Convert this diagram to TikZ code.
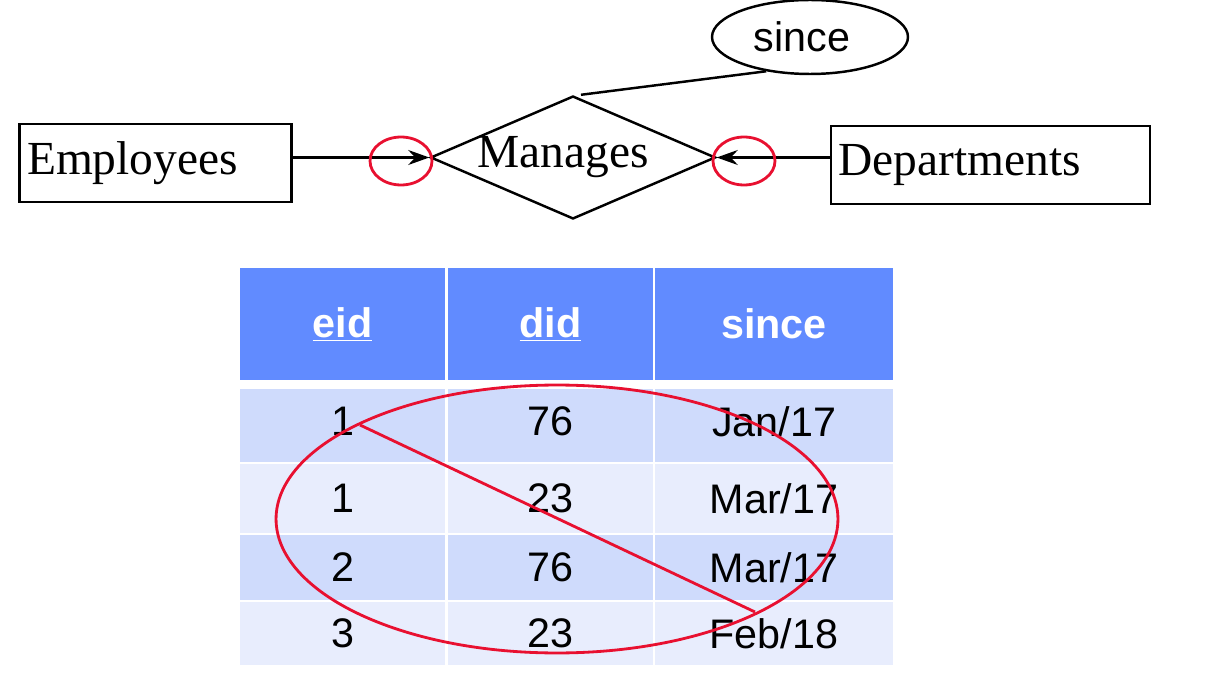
\documentclass[tikz,border=0pt]{standalone}
\usepackage{fontspec}
\setmainfont{Liberation Serif}
\setsansfont{Liberation Sans}
\usetikzlibrary{shapes.geometric,arrows.meta}
\definecolor{hdrblue}{RGB}{97,139,255}
\definecolor{rowdark}{RGB}{207,219,252}
\definecolor{rowlight}{RGB}{232,237,253}
\definecolor{markred}{RGB}{232,16,48}
\tikzset{
  entity/.style={draw,line width=1.4pt,rectangle,align=left,inner sep=0.15cm,
    minimum height=1.56cm,font=\fontsize{27}{30}\selectfont},
  relship/.style={draw,line width=1.4pt,diamond,inner sep=0pt,shape aspect=2.32,
    minimum width=5.7cm,minimum height=2.46cm,font=\fontsize{27}{30}\selectfont},
  attrib/.style={draw,line width=1.4pt,ellipse,inner sep=0pt,
    minimum width=3.92cm,minimum height=1.48cm,font=\sffamily\fontsize{23.5}{26}\selectfont},
  arr/.style={line width=1.4pt,-{Stealth[length=12pt,width=8.5pt,inset=4pt]}},
  redline/.style={draw=markred,line width=1.6pt},
  cell/.style={inner sep=0pt,font=\sffamily\fontsize{23.5}{26}\selectfont},
  hcell/.style={cell,fill=hdrblue,text=white,minimum height=2.24cm,
    font=\sffamily\bfseries\fontsize{23.5}{26}\selectfont},
}
\begin{document}
\begin{tikzpicture}[x=0.02cm,y=-0.02cm]
  \useasboundingbox (0,0) rectangle (1208,679);
  \node[entity,text width=5.14cm] (emp) at (155.5,163) {Employees};
  \node[entity,text width=6.08cm] (dep) at (990.5,165) {Departments};
  \node[relship] (rel) at (573,157.5) {\hspace*{-0.4cm}\raisebox{0.06cm}{Manages}};
  \node[attrib] (since) at (810,37) {\hspace*{-0.32cm}since};
  \draw[line width=1.4pt] ([xshift=0.16cm]rel.north) -- (since.218);
  \draw[arr] (emp.east |- rel.west) -- (rel.west);
  \draw[arr] (dep.west |- rel.east) -- (rel.east);
  \draw[redline] (401,161) ellipse [x radius=0.62cm,y radius=0.48cm];
  \draw[redline] (744,161) ellipse [x radius=0.62cm,y radius=0.48cm];

  \node[hcell,minimum width=4.1cm] (h1) at (342.5,324) {\underline{eid}};
  \node[hcell,minimum width=4.1cm] (h2) at (550.5,324) {\underline{did}};
  \node[hcell,minimum width=4.76cm] (h3) at (774,324) {since};

  \node[cell,fill=rowdark,minimum width=4.1cm,minimum height=1.46cm] (r1a) at (342.5,425.5) {\raisebox{0.17cm}{1}};
  \node[cell,fill=rowdark,minimum width=4.1cm,minimum height=1.46cm] (r1b) at (550.5,425.5) {\raisebox{0.17cm}{76}};
  \node[cell,fill=rowdark,minimum width=4.76cm,minimum height=1.46cm] (r1c) at (774,425.5) {\raisebox{0.17cm}{Jan/17}};

  \node[cell,fill=rowlight,minimum width=4.1cm,minimum height=1.38cm] (r2a) at (342.5,498.5) {1};
  \node[cell,fill=rowlight,minimum width=4.1cm,minimum height=1.38cm] (r2b) at (550.5,498.5) {23};
  \node[cell,fill=rowlight,minimum width=4.76cm,minimum height=1.38cm] (r2c) at (774,498.5) {Mar/17};

  \node[cell,fill=rowdark,minimum width=4.1cm,minimum height=1.3cm] (r3a) at (342.5,567.5) {2};
  \node[cell,fill=rowdark,minimum width=4.1cm,minimum height=1.3cm] (r3b) at (550.5,567.5) {76};
  \node[cell,fill=rowdark,minimum width=4.76cm,minimum height=1.3cm] (r3c) at (774,567.5) {Mar/17};

  \node[cell,fill=rowlight,minimum width=4.1cm,minimum height=1.26cm] (r4a) at (342.5,633.5) {3};
  \node[cell,fill=rowlight,minimum width=4.1cm,minimum height=1.26cm] (r4b) at (550.5,633.5) {23};
  \node[cell,fill=rowlight,minimum width=4.76cm,minimum height=1.26cm] (r4c) at (774,633.5) {Feb/18};

  \coordinate (strikeA) at (360,425);
  \coordinate (strikeB) at (755,612);
  \draw[redline] (557,519) ellipse [x radius=5.62cm,y radius=2.68cm];
  \draw[redline] (strikeA) -- (strikeB);
\end{tikzpicture}
\end{document}
